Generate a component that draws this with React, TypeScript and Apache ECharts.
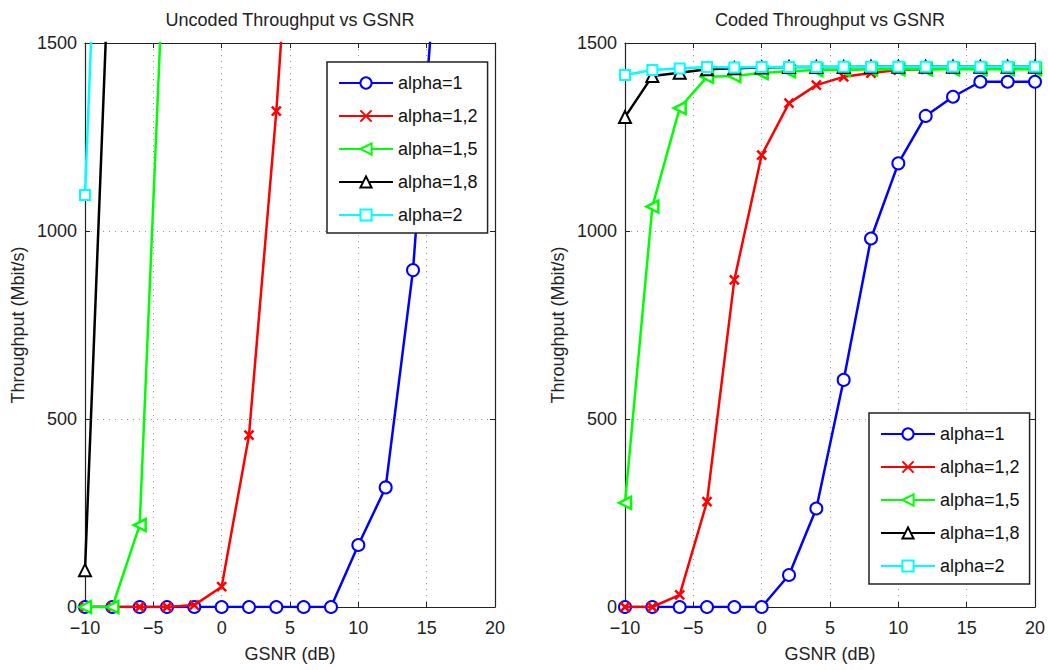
import React, { useEffect, useRef } from 'react';
import * as echarts from 'echarts';

// GSNR values (dB)
const gsnr = [-10, -8, -6, -4, -2, 0, 2, 4, 6, 8, 10, 12, 14, 16, 18, 20];

const seriesNames = ['alpha=1', 'alpha=1,2', 'alpha=1,5', 'alpha=1,8', 'alpha=2'];

// Uncoded throughput (Mbit/s) — last point of each goes beyond the axis top
const uncA1 = [0, 0, 0, 0, 0, 0, 0, 0, 0, 0, 165, 318, 896, 1870];
const uncA12 = [0, 0, 0, 0, 5, 54, 457, 1319, 2383];
const uncA15 = [0, 0, 218, 1938];
const uncA18 = [98, 1954];
const uncA2 = [1096, 2933];

// Coded throughput (Mbit/s)
const codA1 = [0, 0, 0, 0, 0, 0, 85, 262, 604, 980, 1180, 1306, 1357, 1397, 1397, 1397];
const codA12 = [0, 0, 32, 280, 870, 1202, 1340, 1388, 1410, 1420, 1428, 1430, 1432, 1432, 1432, 1432];
const codA15 = [277, 1065, 1327, 1410, 1412, 1420, 1425, 1428, 1428, 1430, 1430, 1430, 1430, 1430, 1430, 1430];
const codA18 = [1303, 1412, 1421, 1430, 1433, 1435, 1436, 1436, 1436, 1437, 1437, 1437, 1437, 1437, 1437, 1437];
const codA2 = [1415, 1428, 1432, 1436, 1435, 1436, 1436, 1436, 1437, 1437, 1437, 1437, 1437, 1437, 1437, 1437];

const xTicks = { min: -10, max: 20, interval: 5 };
const yTicks = { min: 0, max: 1500, interval: 500 };

const colors = ['#0000ff', '#ff0000', '#00ff00', '#000000', '#00ffff'];
const symbols = [
  'emptyCircle',
  'path://M0,0L10,10M10,0L0,10',
  'path://M0,5L10,0L10,10Z',
  'emptyTriangle',
  'emptyRect',
];
const symbolSizes = [12, 9, 12, 12, 10];

const FONT = '"Liberation Sans", Arial, Helvetica, sans-serif';

const pair = (arr: number[]) => arr.map((v, i) => [gsnr[i], v]);

function makeSeries(data: number[][], gridIdx: number) {
  return data.map((arr, k) => {
    const isLeftTri = k === 2;
    return {
      type: 'line',
      name: seriesNames[k],
      xAxisIndex: gridIdx * 2,
      yAxisIndex: gridIdx * 2,
      data: pair(arr),
      clip: true,
      symbol: symbols[k],
      symbolSize: symbolSizes[k],
      showAllSymbol: true,
      lineStyle: { color: colors[k], width: 2.5 },
      itemStyle: isLeftTri
        ? { color: '#ffffff', borderColor: colors[k], borderWidth: 2.5 }
        : { color: colors[k], borderColor: colors[k], borderWidth: 2.5 },
      emphasis: { disabled: true },
      z: 2 + k,
    };
  });
}

const minusFmt = (v: number) => (v < 0 ? '\u2212' + Math.abs(v) : String(v));

function axisPair(gridIndex: number, nameX: string) {
  const common = {
    gridIndex,
    axisLine: { show: true, onZero: false, lineStyle: { color: '#222', width: 1.2 } },
    axisTick: { show: true, inside: true, length: 5, lineStyle: { color: '#222' } },
  };
  const xMain = {
    ...common,
    type: 'value',
    position: 'bottom',
    ...xTicks,
    name: nameX,
    nameLocation: 'middle',
    nameGap: 38,
    nameTextStyle: { fontSize: 18, color: '#222', fontFamily: FONT },
    axisLabel: { fontSize: 18, color: '#222', fontFamily: FONT, margin: 12, formatter: minusFmt },
    splitLine: { show: true, lineStyle: { color: '#999', type: [1, 5], width: 1 } },
  };
  const xTop = {
    ...common,
    type: 'value',
    position: 'top',
    ...xTicks,
    axisLabel: { show: false },
    splitLine: { show: false },
  };
  const yMain = {
    ...common,
    type: 'value',
    position: 'left',
    ...yTicks,
    name: 'Throughput (Mbit/s)',
    nameLocation: 'middle',
    nameGap: 58,
    nameTextStyle: { fontSize: 18, color: '#222', fontFamily: FONT },
    axisLabel: { fontSize: 18, color: '#222', fontFamily: FONT, margin: 8, formatter: (v: number) => String(v) },
    splitLine: { show: true, lineStyle: { color: '#999', type: [1, 5], width: 1 } },
  };
  const yRight = {
    ...common,
    type: 'value',
    position: 'right',
    ...yTicks,
    axisLabel: { show: false },
    splitLine: { show: false },
  };
  return { x: [xMain, xTop], y: [yMain, yRight] };
}

function legendAt(left: number, top: number) {
  return {
    left,
    top,
    orient: 'vertical',
    data: seriesNames,
    itemWidth: 54,
    itemHeight: 14,
    itemGap: 13,
    padding: [11, 10, 8, 11],
    borderColor: '#222',
    borderWidth: 1.5,
    backgroundColor: '#ffffff',
    selectedMode: false,
    textStyle: { fontSize: 18, color: '#111', fontFamily: FONT, lineHeight: 20 },
  };
}

export default function App() {
  const ref = useRef<HTMLDivElement>(null);
  useEffect(() => {
    if (!ref.current) return;
    const chart = echarts.init(ref.current, undefined, { renderer: 'svg' });
    const a0 = axisPair(0, 'GSNR (dB)');
    const a1 = axisPair(1, 'GSNR (dB)');
    chart.setOption({
      animation: false,
      backgroundColor: '#ffffff',
      textStyle: { fontFamily: FONT },
      grid: [
        { left: 85, top: 43, width: 410, height: 564, containLabel: false, outerBoundsMode: 'none' },
        { left: 625, top: 43, width: 410, height: 564, containLabel: false, outerBoundsMode: 'none' },
      ],
      xAxis: [...a0.x, ...a1.x],
      yAxis: [...a0.y, ...a1.y],
      legend: [legendAt(327, 62), legendAt(869, 413)],
      graphic: [
        {
          type: 'text',
          x: 290,
          y: 20,
          style: {
            text: 'Uncoded Throughput vs GSNR',
            fontSize: 18,
            fontFamily: FONT,
            fill: '#222',
            textAlign: 'center',
            textVerticalAlign: 'middle',
          },
        },
        {
          type: 'text',
          x: 830,
          y: 20,
          style: {
            text: 'Coded Throughput vs GSNR',
            fontSize: 18,
            fontFamily: FONT,
            fill: '#222',
            textAlign: 'center',
            textVerticalAlign: 'middle',
          },
        },
      ],
      series: [
        ...makeSeries([uncA1, uncA12, uncA15, uncA18, uncA2], 0),
        ...makeSeries([codA1, codA12, codA15, codA18, codA2], 1),
      ],
    });
    return () => chart.dispose();
  }, []);
  return (
    <div
      ref={ref}
      style={{ position: 'absolute', left: 0, top: 0, width: 1048, height: 670, background: '#fff' }}
    />
  );
}
